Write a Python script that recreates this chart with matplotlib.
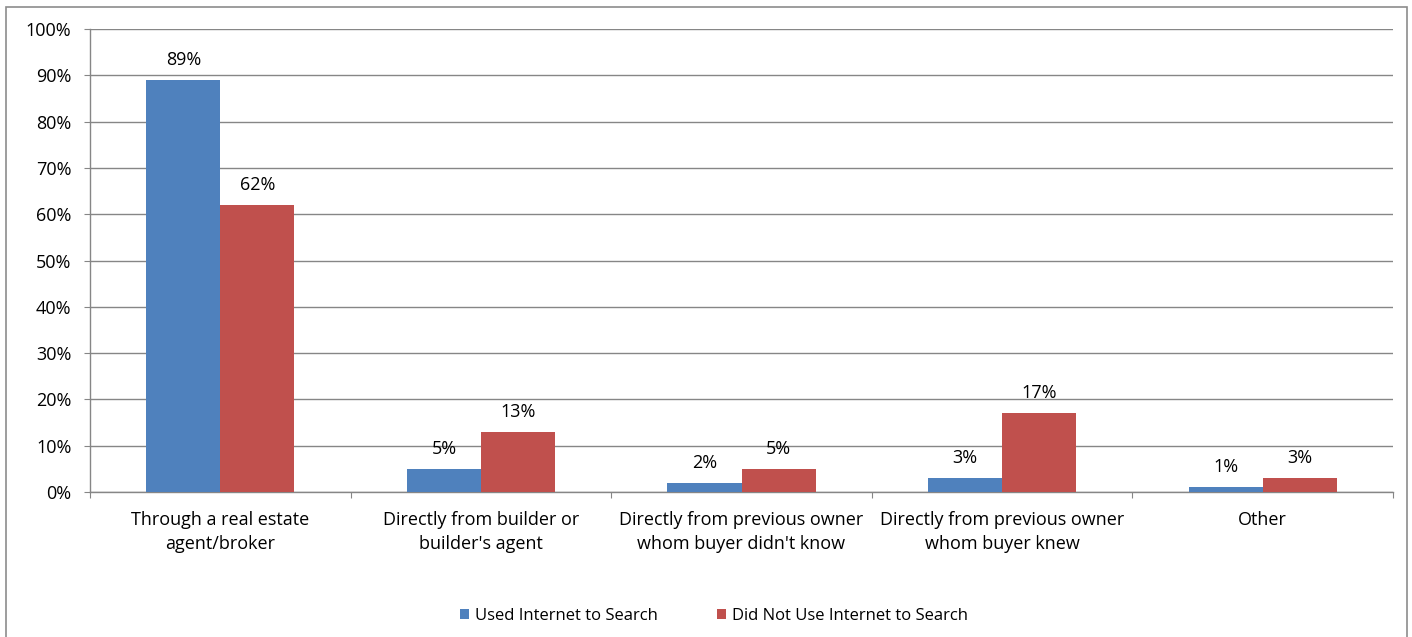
import matplotlib
matplotlib.use("Agg")
import matplotlib.pyplot as plt
from matplotlib.patches import Rectangle
from matplotlib.ticker import MultipleLocator, FuncFormatter
import numpy as np

categories = [
    "Through a real estate\nagent/broker",
    "Directly from builder or\nbuilder's agent",
    "Directly from previous owner\nwhom buyer didn't know",
    "Directly from previous owner\nwhom buyer knew",
    "Other",
]
used_internet = [89, 5, 2, 3, 1]
no_internet = [62, 13, 5, 17, 3]
series_names = ["Used Internet to Search", "Did Not Use Internet to Search"]

plt.rcParams["font.family"] = ["Open Sans", "DejaVu Sans"]

W, H, DPI = 1412, 637, 100
FS = 13
fig = plt.figure(figsize=(W / DPI, H / DPI), dpi=DPI)

# outer chart frame
fig.patches.append(Rectangle((6 / W, -0.05), (1407 - 6) / W, 1.05 - 7 / H,
                             transform=fig.transFigure, fill=False,
                             edgecolor="#8c8c8c", linewidth=1.2))

ax = fig.add_axes([90 / W, 1 - 492 / H, (1393 - 90) / W, (492 - 29) / H])

x = np.arange(len(categories))
bw = 0.284
blue, red = "#4F81BD", "#C0504D"
b1 = ax.bar(x - bw / 2, used_internet, bw, color=blue, label=series_names[0], zorder=3)
b2 = ax.bar(x + bw / 2, no_internet, bw, color=red, label=series_names[1], zorder=3)

for bars, vals in ((b1, used_internet), (b2, no_internet)):
    for rect, v in zip(bars, vals):
        ax.annotate(f"{v}%", (rect.get_x() + rect.get_width() / 2, v),
                    xytext=(0, 10.8), textcoords="offset points",
                    ha="center", va="baseline", fontsize=FS, color="#000000",
                    zorder=4)

ax.set_xlim(-0.5, len(categories) - 0.5)
ax.set_ylim(0, 100)
ax.yaxis.set_major_locator(MultipleLocator(10))
ax.yaxis.set_major_formatter(FuncFormatter(lambda v, p: f"{v:.0f}%"))
ax.grid(axis="y", color="#868686", linewidth=1.0, zorder=0)
ax.set_axisbelow(True)

ax.set_xticks(np.arange(-0.5, len(categories), 1.0))
ax.set_xticklabels([])
ax.set_xticks(x, minor=True)
ax.set_xticklabels(categories, minor=True, fontsize=FS, linespacing=1.42)
ax.tick_params(axis="x", which="minor", length=0, pad=14)
ax.tick_params(axis="x", which="major", length=4.3, color="#868686", direction="out")
ax.tick_params(axis="y", length=4.3, color="#868686", labelsize=FS, pad=9)

for side in ("top", "right"):
    ax.spines[side].set_visible(False)
for side in ("left", "bottom"):
    ax.spines[side].set_color("#868686")
    ax.spines[side].set_linewidth(1.0)

fig.legend(handles=[b1, b2], labels=series_names, loc="center",
           bbox_to_anchor=(714 / W, 1 - 616 / H), ncol=2, frameon=False,
           fontsize=12, handlelength=0.5, handleheight=0.5, handletextpad=0.35,
           columnspacing=3.6)

fig.savefig("out.png", dpi=DPI, facecolor="white")
